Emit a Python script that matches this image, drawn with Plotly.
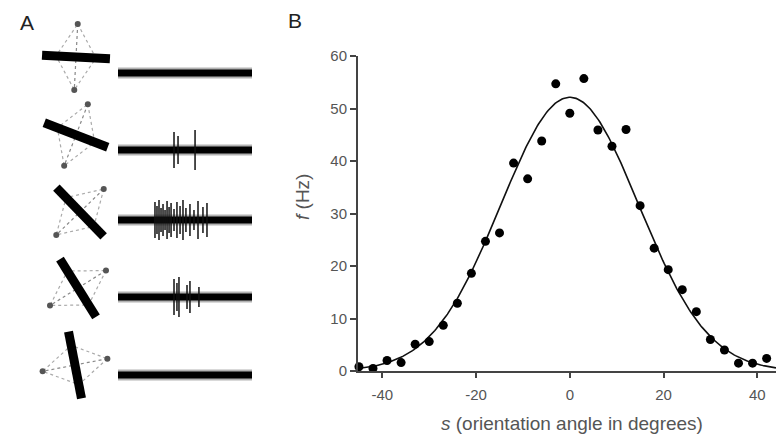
import numpy as np
import plotly.graph_objects as go

# ---------------- Panel B data ----------------
angles = [-45, -42, -39, -36, -33, -30, -27, -24, -21, -18, -15, -12, -9, -6, -3,
          0, 3, 6, 9, 12, 15, 18, 21, 24, 27, 30, 33, 36, 39, 42]
rates = [0.8, 0.5, 2.0, 1.6, 5.1, 5.6, 8.7, 12.9, 18.6, 24.7, 26.3, 39.6, 36.6, 43.8, 54.7,
         49.1, 55.7, 45.9, 42.8, 46.0, 31.5, 23.4, 19.3, 15.5, 11.3, 6.0, 4.0, 1.5, 1.5, 2.4]
# Gaussian tuning-curve fit parameters
r_max = 52.14
s_max = 0.0
sigma_f = 14.73
x_ticks = [-40, -20, 0, 20, 40]
x_tick_text = ["-40", "-20", "0", "20", "40"]
y_ticks = [0, 10, 20, 30, 40, 50, 60]

# ---------------- Panel A data ----------------
bar_orient = [3, 21, 46, 58, 79]            # bar orientation (deg, clockwise)
spikes_ms = [
    [],
    [418, 448, 575],
    [276, 291, 306, 321, 336, 351, 366, 381, 396, 418, 440, 463, 485, 507, 537, 567, 597, 634, 664],
    [418, 440, 455, 515, 537, 604],
    [],
]
spike_amp = [18, 14, 20, 12, 16, 10, 19, 13, 17, 11]

W, H = 776, 436
FONT = "Liberation Sans, Arial, sans-serif"
fig = go.Figure()

# ---- Panel B traces ----
s_curve = np.linspace(-45.2, 44.0, 300)
f_curve = r_max * np.exp(-0.5 * ((s_curve - s_max) / sigma_f) ** 2)
fig.add_trace(go.Scatter(x=s_curve, y=f_curve, mode="lines",
                         line=dict(color="#111", width=1.6), hoverinfo="skip",
                         showlegend=False, cliponaxis=False))
fig.add_trace(go.Scatter(x=angles, y=rates, mode="markers",
                         marker=dict(color="#000", size=9), showlegend=False,
                         cliponaxis=False))

# ---- Panel A drawing (pixel-like coordinate system on xaxis2/yaxis2) ----
row_cy = [57, 135, 212, 288, 365]
row_cx = [76, 76, 80, 78, 75]
trace_y = [73, 150, 220, 297, 375]
trace_x0, trace_x1 = 118, 252
bar_half = 34
perp_len = 33
diamond_half = 20
for i, th in enumerate(bar_orient):
    t = np.deg2rad(th)
    ax, ay = np.cos(t), np.sin(t)
    px, py = np.sin(t), -np.cos(t)
    cx, cy = row_cx[i], row_cy[i]
    # dashed diamond receptive field
    dx = [cx + px * perp_len, cx + ax * diamond_half, cx - px * perp_len,
          cx - ax * diamond_half, cx + px * perp_len]
    dy = [cy + py * perp_len, cy + ay * diamond_half, cy - py * perp_len,
          cy - ay * diamond_half, cy + py * perp_len]
    fig.add_trace(go.Scatter(x=dx, y=dy, xaxis="x2", yaxis="y2", mode="lines",
                             line=dict(color="#aaa", width=1.2, dash="dot"),
                             showlegend=False, hoverinfo="skip"))
    # motion axis with dots at the ends
    fig.add_trace(go.Scatter(x=[cx + px * perp_len, cx - px * perp_len],
                             y=[cy + py * perp_len, cy - py * perp_len],
                             xaxis="x2", yaxis="y2", mode="lines+markers",
                             line=dict(color="#888", width=1.2, dash="dot"),
                             marker=dict(color="#555", size=6),
                             showlegend=False, hoverinfo="skip"))
    # the bar
    fig.add_trace(go.Scatter(x=[cx - ax * bar_half, cx + ax * bar_half],
                             y=[cy - ay * bar_half, cy + ay * bar_half],
                             xaxis="x2", yaxis="y2", mode="lines",
                             line=dict(color="#000", width=9),
                             showlegend=False, hoverinfo="skip"))
    # spike train baseline (with blurred halo)
    ty = trace_y[i]
    fig.add_trace(go.Scatter(x=[trace_x0, trace_x1], y=[ty, ty],
                             xaxis="x2", yaxis="y2", mode="lines",
                             line=dict(color="rgba(0,0,0,0.3)", width=11),
                             showlegend=False, hoverinfo="skip"))
    fig.add_trace(go.Scatter(x=[trace_x0, trace_x1], y=[ty, ty],
                             xaxis="x2", yaxis="y2", mode="lines",
                             line=dict(color="#000", width=7),
                             showlegend=False, hoverinfo="skip"))
    # spikes
    sx, sy = [], []
    scale = (trace_x1 - trace_x0) / 1000.0
    for k, ms in enumerate(spikes_ms[i]):
        xx = trace_x0 + ms * scale
        a = spike_amp[k % len(spike_amp)]
        sx += [xx, xx, None]
        sy += [ty - a, ty + a, None]
    if sx:
        fig.add_trace(go.Scatter(x=sx, y=sy, xaxis="x2", yaxis="y2", mode="lines",
                                 line=dict(color="#111", width=1.5),
                                 showlegend=False, hoverinfo="skip"))

tick_font = dict(family=FONT, size=15, color="#555")
x2_dom = 0.36
fig.update_layout(
    width=W, height=H, autosize=False,
    margin=dict(l=0, r=0, t=0, b=0),
    paper_bgcolor="white", plot_bgcolor="white",
    xaxis=dict(domain=[358 / W, 1], range=[-45.2, 44.0], tickvals=x_ticks,
               ticktext=x_tick_text,
               ticks="outside", ticklen=5, tickwidth=1.5, tickcolor="#444",
               showline=True, linecolor="#444", linewidth=2, showgrid=False,
               zeroline=False, tickfont=tick_font, automargin=False,
               ticklabelstandoff=4),
    yaxis=dict(domain=[(H - 371) / H, (H - 56) / H], range=[0, 60], tickvals=y_ticks,
               ticks="outside", ticklen=6, tickwidth=1.5, tickcolor="#444",
               showline=True, linecolor="#444", linewidth=2, showgrid=False,
               zeroline=False, tickfont=tick_font, automargin=False),
    xaxis2=dict(domain=[0, x2_dom], range=[0, W * x2_dom], visible=False,
                anchor="y2", fixedrange=True),
    yaxis2=dict(domain=[0, 1], range=[H, 0], visible=False, anchor="x2",
                fixedrange=True),
    annotations=[
        dict(text="<i>s</i> (orientation angle in degrees)", x=572 / W, y=(H - 423) / H,
             xref="paper", yref="paper", showarrow=False, xanchor="center", yanchor="middle",
             font=dict(family=FONT, size=19, color="#555")),
        dict(text="<i>f</i> (Hz)", x=302 / W, y=(H - 197) / H, textangle=-90,
             xref="paper", yref="paper", showarrow=False, xanchor="center", yanchor="middle",
             font=dict(family=FONT, size=19, color="#555")),
        dict(text="A", x=27 / W, y=(H - 23) / H, xref="paper", yref="paper",
             showarrow=False, xanchor="center", yanchor="middle",
             font=dict(family=FONT, size=21, color="#222")),
        dict(text="B", x=295 / W, y=(H - 21) / H, xref="paper", yref="paper",
             showarrow=False, xanchor="center", yanchor="middle",
             font=dict(family=FONT, size=21, color="#222")),
    ],
)

fig.write_html("out.html")
